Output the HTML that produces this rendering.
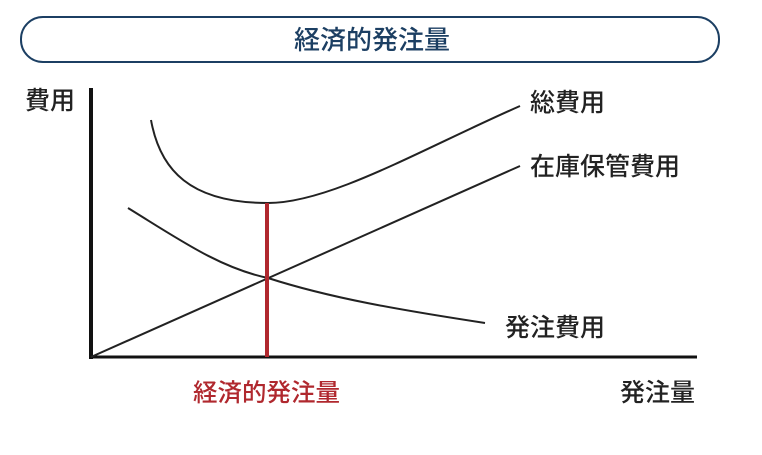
<!DOCTYPE html>
<html><head><meta charset="utf-8"><style>
body{margin:0;background:#fff;width:762px;height:450px;overflow:hidden}
svg text{font-family:"Liberation Sans","Noto Sans CJK JP",sans-serif}
</style></head><body>
<svg width="762" height="450" viewBox="0 0 762 450" xmlns="http://www.w3.org/2000/svg">
<rect x="21" y="17" width="698" height="45" rx="22" fill="#fff" stroke="#1c3f63" stroke-width="2"/>
<text x="372" y="49" font-size="26" fill="#1c3f63" text-anchor="middle" font-weight="500">経済的発注量</text>
<line x1="91" y1="88" x2="91" y2="359" stroke="#111" stroke-width="4"/>
<line x1="89" y1="357" x2="697" y2="357" stroke="#111" stroke-width="3"/>
<path d="M151 120 C160 170,190 203,268 203 C330 203,420 150,520 106" fill="none" stroke="#222" stroke-width="2"/>
<line x1="91" y1="357" x2="520" y2="166" stroke="#222" stroke-width="2"/>
<path d="M128 208 C180 240,220 268,268 278 C330 298,400 310,485 323" fill="none" stroke="#222" stroke-width="2"/>
<line x1="267" y1="203" x2="267" y2="357" stroke="#b0282e" stroke-width="4"/>
<g font-size="25" fill="#222" font-weight="500">
<text x="25" y="109">費用</text>
<text x="530" y="111">総費用</text>
<text x="530" y="175">在庫保管費用</text>
<text x="505" y="336">発注費用</text>
<text x="620" y="401">発注量</text>
</g>
<text x="193" y="401" font-size="24.5" fill="#b0282e" font-weight="500">経済的発注量</text>
</svg>
</body></html>
